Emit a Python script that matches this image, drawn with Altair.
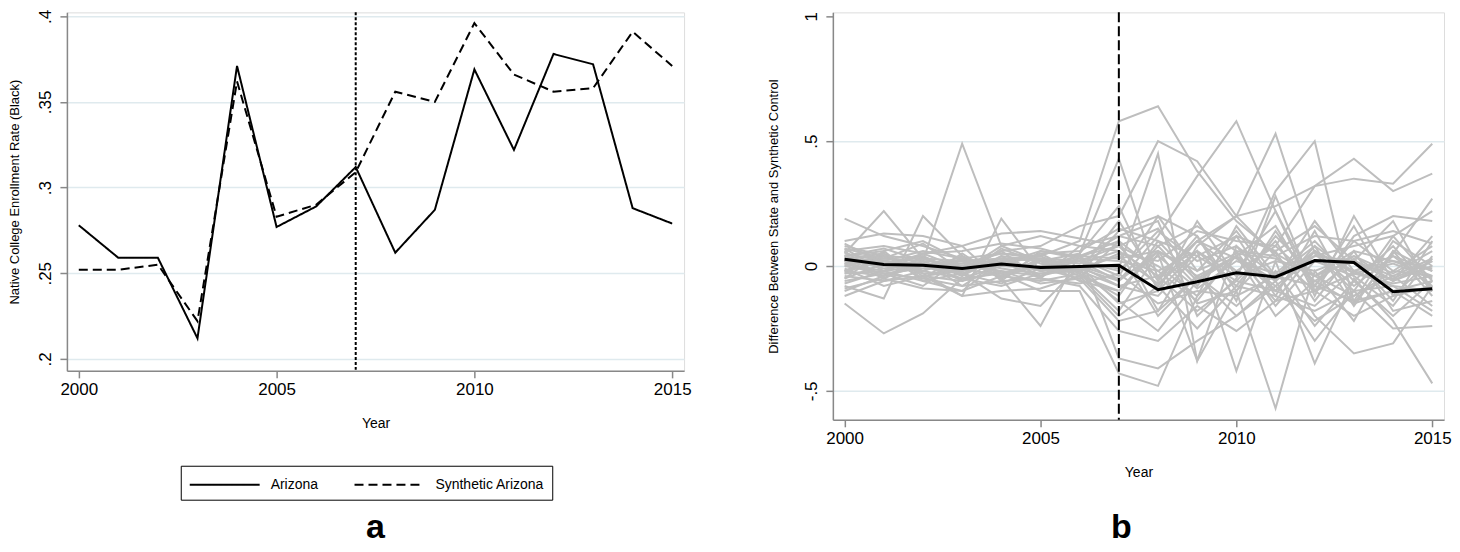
import altair as alt
import pandas as pd

years = list(range(2000, 2016))

# Panel a: native college enrollment rate (Black)
arizona = [0.278, 0.259, 0.259, 0.212, 0.371, 0.277, 0.289, 0.312,
           0.262, 0.287, 0.369, 0.322, 0.378, 0.372, 0.288, 0.279]
synthetic_arizona = [0.252, 0.252, 0.255, 0.222, 0.362, 0.283, 0.290, 0.309,
                     0.356, 0.350, 0.396, 0.366, 0.356, 0.358, 0.391, 0.371]
series_names = ["Arizona", "Synthetic Arizona"]

# Panel b: gap between state and synthetic control
arizona_gap = [0.027, 0.006, 0.003, -0.010, 0.008, -0.006, -0.002, 0.003,
               -0.095, -0.063, -0.027, -0.044, 0.022, 0.014, -0.103, -0.091]

placebo_gaps = [
    [.19, .12, .08, .03, .05, .04, .10, .58, .64, .38, .18, .05, -.04, .02, -.06, .00],
    [.05, .22, .03, -.02, .06, .08, .16, .20, .50, .42, .20, .04, -.10, -.03, .01, -.05],
    [.02, .03, .02, .49, .08, .02, .05, .43, -.05, .10, .03, -.08, .04, .02, -.04, .03],
    [-.03, -.02, .00, .02, -.04, .00, .02, -.01, .45, -.38, .08, -.10, .06, -.03, -.05, .02],
    [-.15, -.27, -.19, -.05, -.03, -.10, -.10, -.43, -.48, -.12, .04, -.20, -.06, -.15, -.10, -.20],
    [-.08, -.13, .20, .04, -.05, -.24, .05, -.37, -.41, -.30, -.20, -.06, -.30, -.10, -.08, -.18],
    [.03, .04, -.03, -.12, .19, -.02, .02, -.06, .12, .36, .58, .22, -.08, .10, -.02, -.04],
    [.07, -.02, .05, .08, -.06, .06, .04, .10, -.18, .08, .20, .53, .05, -.10, .12, -.06],
    [-.02, .05, -.04, -.02, .06, -.05, .08, .12, .18, -.20, -.05, .30, .50, -.15, .05, .27],
    [.00, .03, .02, -.04, .04, .02, -.02, .05, .02, .14, .10, .08, .32, .35, .33, .49],
    [.04, .06, .10, .02, .03, .03, .02, .08, -.08, .10, .20, .24, .32, .43, .30, .37],
    [-.05, .06, -.06, -.10, .02, .04, -.03, -.18, .05, -.38, -.10, -.57, -.02, -.22, .06, -.12],
    [.02, -.05, .04, -.03, -.13, -.16, .00, -.15, -.10, .06, -.42, .02, -.39, -.05, -.22, -.47],
    [.01, -.03, -.08, .03, -.05, .02, -.06, -.10, .06, -.15, -.10, .06, -.20, -.35, -.31, -.08],
    [.10, .13, .12, .08, .13, .14, .11, .08, .15, -.05, .04, .16, -.10, .03, -.14, .10],
    [-.12, -.06, -.04, -.12, -.10, -.09, -.04, -.20, -.08, -.25, -.08, -.12, -.18, -.10, -.25, -.24],
    [.08, .04, .03, -.02, .02, -.01, .04, .03, .06, -.02, .05, .03, -.04, .06, .02, -.01],
    [-.04, -.06, -.02, .03, -.01, -.03, -.02, -.08, -.12, .04, -.06, -.10, .08, -.03, -.07, -.04],
    [.06, .08, .05, .06, .09, .07, .03, .12, .08, .16, .06, .04, .12, .10, .14, .09],
    [-.06, -.03, -.05, -.08, -.06, -.05, -.07, -.03, -.15, -.10, -.12, -.04, -.08, -.14, -.10, -.06],
    [.03, -.01, .01, .00, .03, .02, .01, .06, -.04, .10, -.02, .08, -.06, .04, -.03, .06],
    [-.09, -.05, -.09, -.10, -.04, -.06, -.03, -.12, .10, -.06, .04, -.14, .06, -.08, .04, -.02],
    [.05, .02, .06, .03, .00, .05, .06, .15, .10, .04, .12, .06, .16, .02, .18, -.10],
    [-.02, -.04, .00, -.05, -.08, -.03, -.01, .04, -.07, .06, -.08, .12, -.04, -.12, -.02, .08],
    [.01, .02, -.03, -.02, .02, -.02, .00, -.05, .04, -.09, .02, -.03, .10, -.06, .08, -.10],
    [.09, .01, .04, -.04, .07, .01, -.02, .18, -.06, .12, -.10, .14, -.08, .16, -.12, .03],
    [-.01, -.08, -.04, -.06, -.02, -.07, -.05, -.22, -.18, -.04, -.20, -.08, -.22, -.12, -.04, -.16],
    [.04, .07, .02, .01, .05, .03, .02, -.02, .14, .02, .08, -.04, .04, .08, .12, .22],
    [-.07, -.02, -.06, -.03, -.07, -.01, -.05, .10, -.02, -.14, .06, -.16, .02, -.04, -.16, .04],
    [.02, .00, .05, -.01, .01, .06, .03, -.04, .20, -.02, .14, -.06, .18, -.02, .04, -.08],
    [.00, -.03, -.01, .01, -.02, -.04, .00, -.08, -.04, -.18, -.06, .10, -.14, .06, -.18, -.14],
    [.06, -.05, .02, -.06, .04, -.04, .05, .24, -.10, .18, -.04, .22, -.12, .20, -.06, .12],
    [-.03, .04, -.02, .04, -.03, .02, -.04, -.10, .08, -.08, .12, -.12, .14, -.14, .10, .00],
    [.04, .00, -.02, -.05, .00, -.01, .03, .02, -.02, .06, -.04, .02, -.02, .04, -.06, .02],
    [-.05, .01, .00, -.03, .03, -.02, -.01, -.06, .06, -.04, .04, -.06, .06, -.02, .02, -.04],
    [.07, .03, .09, -.02, .08, .12, .08, .06, -.20, -.04, -.16, -.02, -.24, -.06, -.20, -.06],
    [-.10, -.04, .02, -.08, .02, -.05, -.08, -.26, -.30, -.16, -.26, -.14, -.10, -.20, -.12, -.08],
    [.03, .05, -.05, .05, -.05, .05, -.03, .14, .20, .12, -.14, .28, -.10, .12, .20, .18],
    [-.02, .02, .01, -.01, -.04, .03, -.02, -.14, -.26, -.06, .04, -.10, -.16, -.02, -.08, -.10],
    [.01, -.02, .03, .02, -.03, .00, .04, .08, .00, -.12, .16, -.04, .08, -.16, .06, -.02],
]

treatment_year = [2007]
y_ticks_a = [0.2, 0.25, 0.3, 0.35, 0.4]
y_ticks_b = [-0.5, 0.0, 0.5, 1.0]
x_ticks = [2000, 2005, 2010, 2015]

FONT = "Liberation Sans"
GRID = "#dfeaee"
LABEL_EXPR = ("datum.value < 0 ? '-' + replace(format(-datum.value, '.2~f'), regexp('^0[.]'), '.')"
              " : replace(format(datum.value, '.2~f'), regexp('^0[.]'), '.')")

df_a = pd.DataFrame({
    "Year": years * 2,
    "Rate": arizona + synthetic_arizona,
    "Series": [series_names[0]] * len(years) + [series_names[1]] * len(years),
})

rows = []
for i, s in enumerate(placebo_gaps):
    for y, v in zip(years, s):
        rows.append({"Year": y, "Gap": v, "State": f"S{i}"})
df_p = pd.DataFrame(rows)
df_az = pd.DataFrame({"Year": years, "Gap": arizona_gap})
df_rule = pd.DataFrame({"Year": treatment_year})


def x_axis():
    return alt.Axis(values=x_ticks, format="d", title="Year", grid=False,
                    labelFontSize=17, labelPadding=4, tickSize=7, tickWidth=1.5,
                    domainWidth=1.5, titleFontSize=14, titleFontWeight="normal",
                    titlePadding=19)


def y_axis(values, title, tpad, grid_opacity=1):
    return alt.Axis(values=values, title=title, labelExpr=LABEL_EXPR, labelAngle=270,
                    labelAlign="center", labelBaseline="bottom", labelFontSize=17,
                    labelPadding=5, tickSize=7, tickWidth=1.5, domainWidth=1.5,
                    grid=True, gridColor=GRID, gridWidth=1.5, gridOpacity=grid_opacity,
                    titleFontSize=13, titleFontWeight="normal", titlePadding=tpad)


xscale = alt.Scale(domain=[1999.7, 2015.3], nice=False, zero=False)

lines_a = alt.Chart(df_a).mark_line(color="black", strokeWidth=2).encode(
    x=alt.X("Year:Q", scale=xscale, axis=x_axis()),
    y=alt.Y("Rate:Q", scale=alt.Scale(domain=[0.193, 0.4023], nice=False, zero=False),
            axis=y_axis(y_ticks_a, "Native College Enrollment Rate (Black)", 15)),
    strokeDash=alt.StrokeDash(
        "Series:N",
        scale=alt.Scale(domain=series_names, range=[[1, 0], [9, 5]]),
        legend=alt.Legend(orient="none", legendX=114, legendY=454, direction="horizontal",
                          title=None, symbolType="M-1,0H6", symbolSize=400,
                          symbolStrokeWidth=2, symbolStrokeColor="black",
                          labelFontSize=14, labelFont=FONT, labelColor="black",
                          labelOffset=60, columnPadding=32, padding=8,
                          strokeColor="black", fillColor="white"),
    ),
)
rule_a = alt.Chart(df_rule).mark_rule(color="black", strokeWidth=2, strokeDash=[3, 2]).encode(
    x=alt.X("Year:Q", scale=xscale))
label_a = alt.Chart(pd.DataFrame({"t": ["a"]})).mark_text(
    fontSize=34, fontWeight="bold", font=FONT, baseline="alphabetic").encode(
    text="t:N", x=alt.value(309), y=alt.value(526))

panel_a = alt.layer(rule_a, lines_a, label_a).properties(width=618, height=359)

placebo = alt.Chart(df_p).mark_line(color="#bebebe", strokeWidth=2).encode(
    x=alt.X("Year:Q", scale=xscale, axis=x_axis()),
    y=alt.Y("Gap:Q", scale=alt.Scale(domain=[-0.616, 1.016], nice=False, zero=False),
            axis=y_axis(y_ticks_b, "Difference Between State and Synthetic Control", 22,
                        {"condition": {"test": "datum.value == 1", "value": 0}, "value": 1})),
    detail="State:N",
)
az_line = alt.Chart(df_az).mark_line(color="black", strokeWidth=3).encode(
    x=alt.X("Year:Q", scale=xscale), y="Gap:Q")
rule_b = alt.Chart(df_rule).mark_rule(color="black", strokeWidth=2, strokeDash=[10, 4]).encode(
    x=alt.X("Year:Q", scale=xscale))
label_b = alt.Chart(pd.DataFrame({"t": ["b"]})).mark_text(
    fontSize=34, fontWeight="bold", font=FONT, baseline="alphabetic").encode(
    text="t:N", x=alt.value(289), y=alt.value(526))

panel_b = alt.layer(placebo, az_line, rule_b, label_b).properties(width=612, height=408)

chart = alt.hconcat(panel_a, panel_b, spacing=75).resolve_scale(
    strokeDash="independent").resolve_legend(strokeDash="independent").properties(
    padding=0).configure_view(stroke=None).configure_axis(
    labelFont=FONT, titleFont=FONT, labelColor="black", titleColor="black",
    domainColor="black", tickColor="black").configure(background="white")

chart.save("out.html", embed_options={"renderer": "svg", "actions": False})
